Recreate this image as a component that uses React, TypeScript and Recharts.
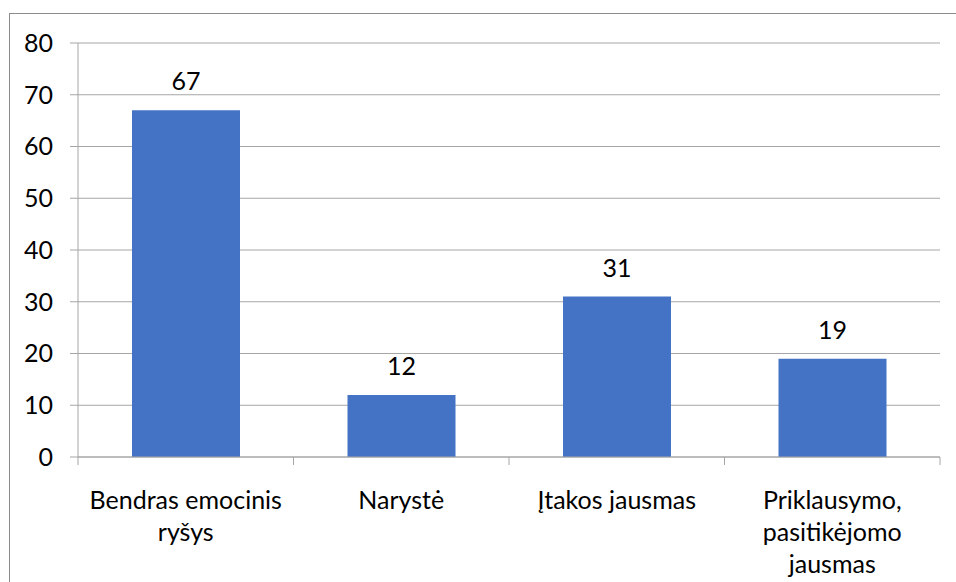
import { Bar, BarChart, CartesianGrid, LabelList, XAxis, YAxis } from 'recharts';

const categories = ['Bendras emocinis ryšys', 'Narystė', 'Įtakos jausmas', 'Priklausymo, pasitikėjomo jausmas'];
// how the category labels break across lines under the axis
const categoryLines = [
  ['Bendras emocinis', 'ryšys'],
  ['Narystė'],
  ['Įtakos jausmas'],
  ['Priklausymo,', 'pasitikėjomo', 'jausmas'],
];
const values = [67, 12, 31, 19];
const yTicks = [0, 10, 20, 30, 40, 50, 60, 70, 80];

const data = categories.map((name, i) => ({ name, value: values[i], idx: i }));

const FONT = 'Lato, "Open Sans", sans-serif';
const FS = 25;
const AXIS = '#a6a6a6';
const BAND = (940 - 78) / categories.length;

// label at the centre of the band, tick marks at the band edges (Excel style)
function CategoryTick(props: any) {
  const { x, y, index } = props;
  const lines = categoryLines[index] ?? [];
  const left = x - BAND / 2;
  const right = x + BAND / 2;
  const top = y - 8;
  return (
    <g>
      <line x1={left} x2={left} y1={top} y2={top + 8} stroke={AXIS} />
      {index === categories.length - 1 && <line x1={right} x2={right} y1={top} y2={top + 8} stroke={AXIS} />}
      <text x={x} y={top + 52} textAnchor="middle" fontSize={FS} fontFamily={FONT} fill="#000">
        {lines.map((l, i) => (
          <tspan key={i} x={x} dy={i === 0 ? 0 : 32}>
            {l}
          </tspan>
        ))}
      </text>
    </g>
  );
}

export default function App() {
  return (
    <div style={{ position: 'fixed', left: 0, top: 0, width: 956, height: 582, background: '#fff' }}>
      <div
        style={{
          position: 'absolute',
          left: 9,
          top: 13,
          width: 1000,
          height: 700,
          border: '1px solid #8c8c8c',
          boxSizing: 'border-box',
        }}
      />
      <div style={{ position: 'absolute', left: 0, top: 0 }}>
        <BarChart width={956} height={582} data={data} margin={{ top: 43, right: 16, bottom: 25, left: 18 }} barCategoryGap="25%">
          <CartesianGrid vertical={false} stroke={AXIS} />
          <XAxis
            dataKey="name"
            axisLine={{ stroke: AXIS }}
            tickLine={false}
            height={100}
            interval={0}
            tick={<CategoryTick />}
          />
          <YAxis
            domain={[0, 80]}
            ticks={yTicks}
            width={60}
            axisLine={{ stroke: AXIS }}
            tickLine={{ stroke: AXIS }}
            tickSize={8}
            tickMargin={17}
            tick={{ fontSize: FS, fontFamily: FONT, fill: '#000' }}
          />
          <Bar dataKey="value" fill="#4472c4" barSize={108} isAnimationActive={false}>
            <LabelList
              dataKey="value"
              position="top"
              offset={20}
              style={{ fontSize: FS, fontFamily: FONT, fill: '#000' }}
            />
          </Bar>
        </BarChart>
      </div>
    </div>
  );
}
